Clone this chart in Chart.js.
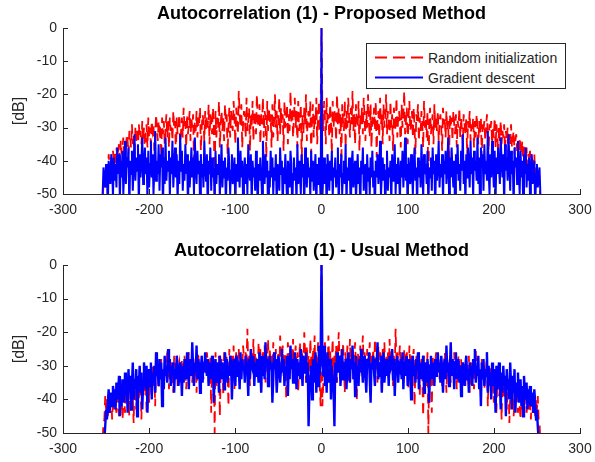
<!DOCTYPE html>
<html>
<head>
<meta charset="utf-8">
<script src="https://cdn.jsdelivr.net/npm/chart.js@4.4.1/dist/chart.umd.min.js"></script>
<style>
html, body { margin: 0; padding: 0; background: #fff; }
#wrap { position: relative; width: 595px; height: 462px; }
canvas { position: absolute; left: 0; }
#c1 { top: 0; }
#c2 { top: 237px; }
#leg { position: absolute; left: 366px; top: 43px; }
</style>
</head>
<body>
<div id="wrap">
  <canvas id="c1" width="595" height="237"></canvas>
  <canvas id="c2" width="595" height="225"></canvas>
  <svg id="leg" width="200" height="46"></svg>
</div>
<script>
// autocorrelation is symmetric, so only lags 1..255 are listed; lag 0 is 0 dB
const maxLag = 255;
const xTicks = [-300, -200, -100, 0, 100, 200, 300];
const yTicks = [0, -10, -20, -30, -40, -50];
const seriesNames = ['Random initialization', 'Gradient descent'];
const titles = ['Autocorrelation (1) - Proposed Method', 'Autocorrelation (1) - Usual Method'];

// proposed method, random initialization
const proposedRandom = [
  -24,-31,-22,-27,-35,-21,-29,-26,-33,-23,-28,-38,-22,-30,-25,
  -27,-34,-20,-29,-24,-32,-26,-41,-23,-28,-31,-22,-36,-25,-30,
  -21,-27,-33,-24,-29,-19,-31,-26,-35,-23,-28,-30,-22,-37,-26,
  -29,-24,-32,-21,-27,-34,-25,-30,-20,-28,-33,-23,-36,-26,-29,
  -24,-31,-22,-39,-27,-25,-33,-21,-29,-26,-35,-23,-30,-28,-20,
  -32,-25,-27,-34,-22,-30,-26,-37,-24,-28,-31,-21,-33,-27,-25,
  -29,-36,-23,-30,-26,-19,-32,-28,-24,-35,-27,-22,-31,-29,-25,
  -33,-24,-30,-38,-26,-28,-23,-34,-27,-31,-25,-29,-36,-22,-30,
  -27,-33,-25,-50,-29,-24,-32,-28,-26,-35,-23,-30,-27,-31,-25,
  -34,-28,-26,-30,-37,-24,-29,-27,-33,-25,-31,-28,-40,-26,-30,
  -27,-34,-25,-29,-32,-26,-36,-28,-30,-24,-33,-27,-31,-35,-26,
  -29,-32,-27,-38,-28,-30,-25,-34,-29,-31,-27,-36,-28,-33,-26,
  -30,-35,-28,-32,-27,-39,-29,-31,-28,-34,-30,-26,-33,-37,-29,
  -31,-28,-35,-30,-33,-27,-36,-29,-32,-38,-30,-34,-28,-35,-31,
  -33,-29,-37,-31,-34,-30,-40,-32,-35,-29,-36,-33,-31,-38,-34,
  -32,-37,-35,-41,-33,-36,-38,-34,-42,-35,-37,-39,-36,-44,-38,
  -40,-37,-43,-39,-45,-41,-38,-46,-42,-44,-48,-43,-47,-52,-55
];

// proposed method, gradient descent
const proposedGradient = [
  -52,-44,-39,-47,-41,-55,-38,-43,-49,-40,-46,-37,-51,-42,-45,
  -39,-48,-43,-36,-55,-41,-45,-38,-50,-44,-40,-47,-35,-53,-42,
  -46,-39,-44,-56,-41,-37,-48,-43,-40,-52,-45,-38,-47,-42,-55,
  -40,-44,-36,-49,-43,-41,-54,-38,-46,-42,-50,-39,-45,-37,-48,
  -43,-56,-40,-45,-38,-47,-42,-34,-51,-44,-39,-46,-41,-55,-43,
  -37,-49,-42,-45,-40,-53,-38,-46,-43,-35,-50,-41,-47,-39,-44,
  -52,-40,-45,-37,-48,-42,-33,-46,-41,-55,-39,-44,-47,-38,-43,
  -50,-41,-36,-46,-42,-54,-39,-45,-40,-48,-35,-43,-51,-38,-44,
  -41,-47,-37,-53,-42,-45,-39,-49,-36,-44,-40,-56,-38,-46,-42,
  -34,-48,-41,-45,-38,-52,-40,-44,-37,-47,-42,-33,-50,-39,-45,
  -36,-43,-48,-40,-55,-38,-44,-35,-46,-41,-49,-37,-43,-32,-47,
  -40,-53,-38,-45,-36,-42,-48,-34,-44,-39,-51,-37,-43,-40,-46,
  -33,-47,-39,-55,-36,-42,-38,-49,-35,-44,-40,-46,-31,-43,-50,
  -38,-45,-34,-41,-48,-37,-52,-39,-44,-36,-42,-47,-33,-40,-45,
  -38,-54,-35,-43,-39,-46,-32,-41,-49,-37,-44,-40,-55,-36,-42,
  -39,-47,-34,-43,-50,-37,-45,-40,-52,-38,-44,-36,-48,-41,-46,
  -39,-51,-42,-38,-47,-43,-40,-55,-44,-41,-48,-45,-42,-50,-56
];

// usual method, random initialization
const usualRandom = [
  -42,-36,-27,-23,-31,-26,-34,-21,-29,-25,-33,-28,-22,-37,-27,
  -30,-24,-35,-26,-20,-31,-28,-25,-33,-23,-29,-38,-26,-32,-24,
  -28,-35,-22,-30,-27,-25,-34,-29,-23,-31,-40,-26,-28,-33,-24,
  -30,-27,-21,-32,-26,-29,-36,-25,-31,-28,-23,-34,-27,-30,-25,
  -33,-22,-29,-27,-35,-24,-31,-26,-28,-38,-25,-30,-23,-32,-27,
  -29,-26,-34,-22,-30,-28,-25,-36,-27,-31,-19,-29,-26,-33,-28,
  -24,-31,-27,-30,-35,-25,-28,-32,-26,-29,-37,-24,-30,-27,-33,
  -28,-25,-42,-31,-27,-34,-29,-26,-39,-30,-28,-33,-45,-27,-31,
  -29,-36,-26,-50,-30,-32,-28,-44,-27,-31,-35,-29,-26,-33,-30,
  -28,-34,-31,-27,-36,-29,-32,-26,-30,-38,-28,-33,-31,-27,-35,
  -30,-28,-32,-26,-34,-29,-37,-31,-27,-33,-30,-28,-35,-32,-29,
  -31,-36,-28,-33,-30,-27,-38,-32,-29,-34,-31,-37,-30,-25,-33,
  -29,-32,-36,-31,-40,-28,-34,-30,-37,-33,-31,-26,-42,-32,-36,
  -30,-38,-34,-33,-41,-31,-36,-44,-35,-32,-39,-37,-34,-46,-36,
  -33,-40,-38,-35,-43,-37,-34,-47,-39,-36,-42,-38,-45,-40,-37,
  -41,-36,-44,-39,-42,-46,-38,-43,-40,-45,-41,-37,-44,-42,-39,
  -43,-40,-46,-38,-44,-41,-42,-45,-40,-43,-39,-46,-47,-52,-56
];

// usual method, gradient descent
const usualGradient = [
  -27,-33,-24,-36,-29,-38,-26,-31,-35,-28,-40,-30,-34,-37,-48,
  -29,-35,-26,-32,-30,-27,-36,-31,-25,-34,-29,-33,-28,-37,-30,
  -26,-32,-35,-28,-31,-24,-34,-29,-39,-27,-33,-30,-36,-28,-32,
  -25,-31,-35,-29,-27,-33,-38,-28,-30,-26,-34,-41,-29,-31,-27,
  -32,-36,-28,-30,-23,-34,-29,-33,-27,-38,-30,-26,-35,-31,-28,
  -33,-29,-36,-27,-31,-30,-25,-34,-28,-39,-32,-29,-27,-35,-30,
  -31,-28,-34,-26,-37,-30,-29,-33,-27,-36,-31,-28,-32,-40,-29,
  -27,-33,-30,-35,-28,-31,-26,-37,-32,-29,-34,-30,-27,-38,-31,
  -29,-35,-28,-32,-41,-30,-27,-34,-31,-29,-36,-28,-33,-30,-26,
  -32,-29,-35,-27,-31,-38,-30,-28,-34,-24,-32,-29,-36,-31,-23,
  -33,-28,-30,-37,-29,-26,-34,-31,-28,-35,-30,-39,-32,-29,-33,
  -36,-30,-27,-34,-31,-38,-29,-33,-30,-36,-28,-32,-25,-35,-30,
  -33,-27,-37,-31,-42,-29,-34,-28,-36,-31,-33,-26,-38,-30,-35,
  -32,-40,-29,-36,-31,-34,-44,-30,-37,-33,-29,-35,-43,-32,-38,
  -30,-36,-33,-45,-31,-37,-34,-40,-29,-36,-43,-33,-38,-31,-44,
  -35,-39,-32,-41,-37,-34,-42,-36,-45,-33,-38,-40,-35,-43,-37,
  -39,-36,-42,-38,-40,-44,-37,-41,-46,-43,-48,-52,-55,-58,-60
];

const FONT = '"Liberation Sans", Arial, Helvetica, sans-serif';
const AXIS = '#262626';

Chart.defaults.font.family = FONT;
Chart.defaults.font.size = 14;
Chart.defaults.color = AXIS;

// mirror the positive lags to get the full -255..255 sequence
function fullSeries(half) {
  const out = [];
  for (let k = -maxLag; k <= maxLag; k++) {
    const v = k === 0 ? 0 : half[Math.abs(k) - 1];
    out.push({ x: k, y: v });
  }
  return out;
}

// MATLAB style ticks pointing into the plot
const innerTicks = {
  id: 'innerTicks',
  afterDraw(chart) {
    const { ctx, chartArea: a, scales: { x, y } } = chart;
    ctx.save();
    ctx.strokeStyle = AXIS;
    ctx.lineWidth = 1;
    ctx.beginPath();
    x.ticks.forEach(t => {
      const px = Math.round(x.getPixelForValue(t.value)) + 0.5;
      ctx.moveTo(px, a.bottom);
      ctx.lineTo(px, a.bottom - 5);
    });
    y.ticks.forEach(t => {
      const py = Math.round(y.getPixelForValue(t.value)) + 0.5;
      ctx.moveTo(a.left, py);
      ctx.lineTo(a.left + 5, py);
    });
    ctx.stroke();
    ctx.restore();
  }
};

function makeChart(id, title, red, blue, xAxisHeight, blueWidth) {
  return new Chart(document.getElementById(id), {
    type: 'line',
    data: {
      datasets: [
        {
          label: seriesNames[1],
          data: fullSeries(blue),
          borderColor: '#0000ff',
          borderWidth: blueWidth,
          pointRadius: 0,
          tension: 0
        },
        {
          label: seriesNames[0],
          data: fullSeries(red),
          borderColor: '#ff0000',
          borderWidth: 1.8,
          borderDash: [10, 6],
          pointRadius: 0,
          tension: 0
        }
      ]
    },
    options: {
      responsive: false,
      animation: false,
      events: [],
      layout: { padding: { left: 0, right: 15, top: 0, bottom: 0 } },
      plugins: {
        legend: { display: false },
        tooltip: { enabled: false },
        title: {
          display: true,
          fullSize: false,
          text: title,
          color: '#000',
          font: { family: FONT, size: 18, weight: 'bold', lineHeight: 1 },
          padding: { top: 5, bottom: 5 }
        }
      },
      scales: {
        x: {
          type: 'linear',
          min: xTicks[0],
          max: xTicks[xTicks.length - 1],
          afterBuildTicks: s => { s.ticks = xTicks.map(v => ({ value: v })); },
          afterFit: s => { s.height = xAxisHeight; s.paddingLeft = 0; s.paddingRight = 0; },
          grid: { display: false, drawTicks: false },
          border: { display: true, color: AXIS, width: 1 },
          ticks: { color: AXIS, padding: 8, maxRotation: 0, font: { family: FONT, size: 14 } }
        },
        y: {
          type: 'linear',
          min: yTicks[yTicks.length - 1],
          max: yTicks[0],
          afterBuildTicks: s => { s.ticks = yTicks.map(v => ({ value: v })); },
          afterFit: s => { s.width = 63; s.paddingTop = 0; s.paddingBottom = 0; },
          grid: { display: false, drawTicks: false },
          border: { display: true, color: AXIS, width: 1 },
          ticks: { color: AXIS, padding: 6, font: { family: FONT, size: 14 } },
          title: {
            display: true,
            text: '[dB]',
            color: AXIS,
            font: { family: FONT, size: 16, lineHeight: 1 },
            padding: { top: 12, bottom: 0 }
          }
        }
      }
    },
    plugins: [innerTicks]
  });
}

makeChart('c1', titles[0], proposedRandom, proposedGradient, 43, 2);
makeChart('c2', titles[1], usualRandom, usualGradient, 29, 2.4);

// legend box of the upper plot
const svgNS = 'http://www.w3.org/2000/svg';
const leg = document.getElementById('leg');
function el(tag, attrs, text) {
  const e = document.createElementNS(svgNS, tag);
  Object.entries(attrs).forEach(([k, v]) => e.setAttribute(k, v));
  if (text) e.textContent = text;
  leg.appendChild(e);
}
el('rect', { x: 0.5, y: 0.5, width: 199, height: 45, fill: '#fff', stroke: AXIS });
el('line', { x1: 9, y1: 14.5, x2: 57, y2: 14.5, stroke: '#ff0000', 'stroke-width': 1.8, 'stroke-dasharray': '12,6' });
el('text', { x: 62, y: 19.5, fill: AXIS, 'font-family': FONT, 'font-size': 14 }, seriesNames[0]);
el('line', { x1: 9, y1: 34.5, x2: 57, y2: 34.5, stroke: '#0000ff', 'stroke-width': 2 });
el('text', { x: 62, y: 39.5, fill: AXIS, 'font-family': FONT, 'font-size': 14 }, seriesNames[1]);
</script>
</body>
</html>
